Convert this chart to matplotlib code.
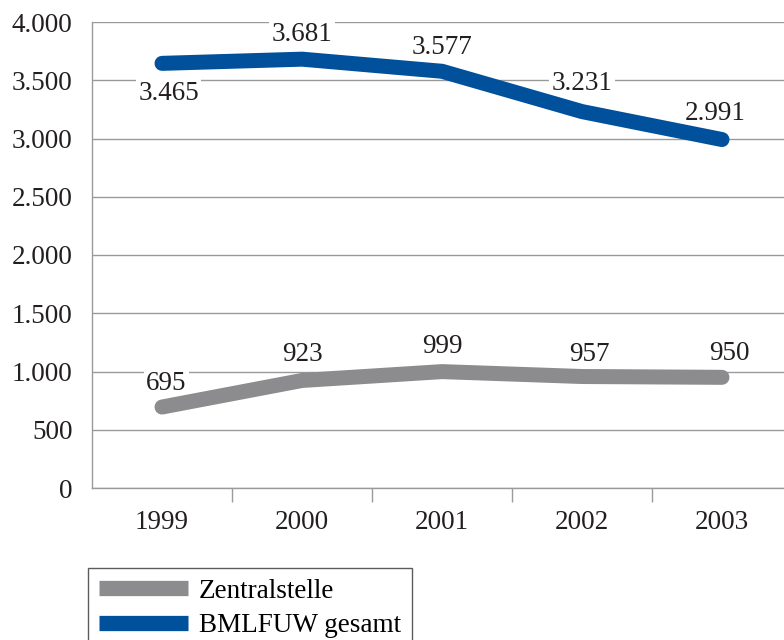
import matplotlib.pyplot as plt

years = ["1999", "2000", "2001", "2002", "2003"]
zentral = [695, 923, 999, 957, 950]
zentral_labels = ["695", "923", "999", "957", "950"]
gesamt = [3645, 3681, 3577, 3231, 2991]
gesamt_labels = ["3.465", "3.681", "3.577", "3.231", "2.991"]
yticks = [0, 500, 1000, 1500, 2000, 2500, 3000, 3500, 4000]
ytick_labels = ["0", "500", "1.000", "1.500", "2.000", "2.500", "3.000", "3.500", "4.000"]

GRAY = "#8c8c8f"
BLUE = "#00509b"
GRID = "#9a9a9a"
FS = 19.5

plt.rcParams["font.family"] = ["Liberation Serif", "DejaVu Serif"]

fig = plt.figure(figsize=(7.84, 6.4), dpi=100)
ax = fig.add_axes([92 / 784, 152 / 640, 700 / 784, 466 / 640])

x = list(range(len(years)))
l1, = ax.plot(x, zentral, color=GRAY, lw=10.8, solid_capstyle="round",
              solid_joinstyle="round", label="Zentralstelle", zorder=3)
l2, = ax.plot(x, gesamt, color=BLUE, lw=10.8, solid_capstyle="round",
              solid_joinstyle="round", label="BMLFUW gesamt", zorder=3)

box = dict(facecolor="white", edgecolor="none", pad=1.5)
# label offsets (points) relative to each point
gesamt_off = [(5, -22), (0, 18), (0, 17), (0, 20), (-5, 19)]
zentral_off = [(3, 17), (0, 19), (0, 18), (5, 16), (5, 17)]
for i in x:
    ax.annotate(gesamt_labels[i], (i, gesamt[i]), xytext=gesamt_off[i],
                textcoords="offset points", ha="center", va="center",
                fontsize=FS, color="#231f20", bbox=box, zorder=2)
    ax.annotate(zentral_labels[i], (i, zentral[i]), xytext=zentral_off[i],
                textcoords="offset points", ha="center", va="center",
                fontsize=FS, color="#231f20", bbox=box, zorder=2)

ax.set_xlim(-0.5, 4.5)
ax.set_ylim(0, 4000)
ax.set_yticks(yticks)
ax.set_yticklabels(ytick_labels, fontsize=FS, color="#231f20")
ax.yaxis.grid(True, color=GRID, lw=1)
ax.set_axisbelow(True)
ax.tick_params(axis="y", length=0, pad=14)

ax.set_xticks([i + 0.5 for i in x[:-1]])
ax.set_xticklabels([])
ax.tick_params(axis="x", length=10, color=GRID, direction="out", width=1)
for i, yr in enumerate(years):
    ax.text(i, -0.075, yr, transform=ax.get_xaxis_transform(), ha="center",
            va="center", fontsize=FS, color="#231f20")

for s in ["right", "top"]:
    ax.spines[s].set_visible(False)
for s in ["left", "bottom"]:
    ax.spines[s].set_color(GRID)
    ax.spines[s].set_linewidth(1)

leg = fig.legend(handles=[l1, l2], loc="upper left",
                 bbox_to_anchor=(88 / 784, 72 / 640), borderaxespad=0,
                 fontsize=FS, frameon=True, fancybox=False, handlelength=3.3,
                 handletextpad=0.4, borderpad=0.4, labelspacing=0.35)
leg.get_frame().set_edgecolor("#333333")
leg.get_frame().set_linewidth(1)
for h in leg.legend_handles:
    h.set_solid_capstyle("butt")
    h.set_linewidth(11)

fig.savefig("out.png", dpi=100)
